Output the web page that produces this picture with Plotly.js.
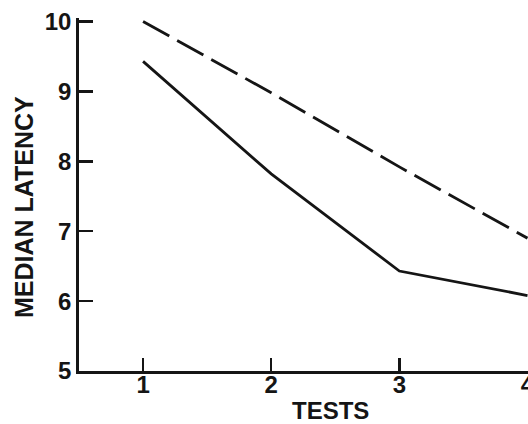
<!DOCTYPE html>
<html>
<head>
<meta charset="utf-8">
<script src="https://cdn.plot.ly/plotly-3.0.1.min.js"></script>
<style>html,body{margin:0;padding:0;background:#fff;}#chart{width:528px;height:424px;}</style>
</head>
<body>
<div id="chart"></div>
<script>
var tests = [1, 2, 3, 4];
var solidLatency = [9.43, 7.82, 6.43, 6.08];
var dashedLatency = [10.0, 8.98, 7.92, 6.90];
var yTickVals = [5, 6, 7, 8, 9, 10];
var yTickText = ["5", "6", "7", "8", "9", "10"];
var xTickVals = [1, 2, 3, 4];
var xTickText = ["1", "2", "3", "4"];
var xTitle = "TESTS";
var yTitle = "MEDIAN LATENCY";

var ink = "#151515";
var fnt = "Liberation Sans, Arial, sans-serif";

var traces = [
  {x: tests, y: solidLatency, mode: "lines", line: {color: ink, width: 2.8}, hoverinfo: "skip"},
  {x: tests, y: dashedLatency, mode: "lines", line: {color: ink, width: 2.8, dash: "30px,9px"}, hoverinfo: "skip"}
];

var layout = {
  width: 528, height: 424,
  margin: {l: 79, r: 0, t: 18, b: 53, pad: 0},
  paper_bgcolor: "#ffffff", plot_bgcolor: "#ffffff",
  showlegend: false,
  xaxis: {
    range: [0.5, 4.004], tickmode: "array", tickvals: xTickVals, ticktext: xTickText,
    ticks: "inside", ticklen: 13, tickwidth: 2.5, tickcolor: ink,
    showline: true, linecolor: ink, linewidth: 2.8, showgrid: false, zeroline: false,
    ticklabelstandoff: -10, ticklabeloverflow: "allow",
    tickfont: {family: fnt, size: 24, color: ink, weight: "bold"}
  },
  yaxis: {
    range: [5, 10.05], tickmode: "array", tickvals: yTickVals, ticktext: yTickText,
    ticks: "inside", ticklen: 14, tickwidth: 2.5, tickcolor: ink,
    showline: true, linecolor: ink, linewidth: 2.8, showgrid: false, zeroline: false,
    tickfont: {family: fnt, size: 24, color: ink, weight: "bold"}
  },
  annotations: [
    {text: xTitle, xref: "paper", yref: "paper", x: 0.561, y: -0.112, showarrow: false,
     xanchor: "center", yanchor: "middle", font: {family: fnt, size: 24, color: ink, weight: "bold"}},
    {text: yTitle, xref: "paper", yref: "paper", x: -0.1225, y: 0.4646, showarrow: false, textangle: -90,
     xanchor: "center", yanchor: "middle", font: {family: fnt, size: 25, color: ink, weight: "bold"}}
  ]
};

Plotly.newPlot("chart", traces, layout, {staticPlot: true, displayModeBar: false});
</script>
</body>
</html>
